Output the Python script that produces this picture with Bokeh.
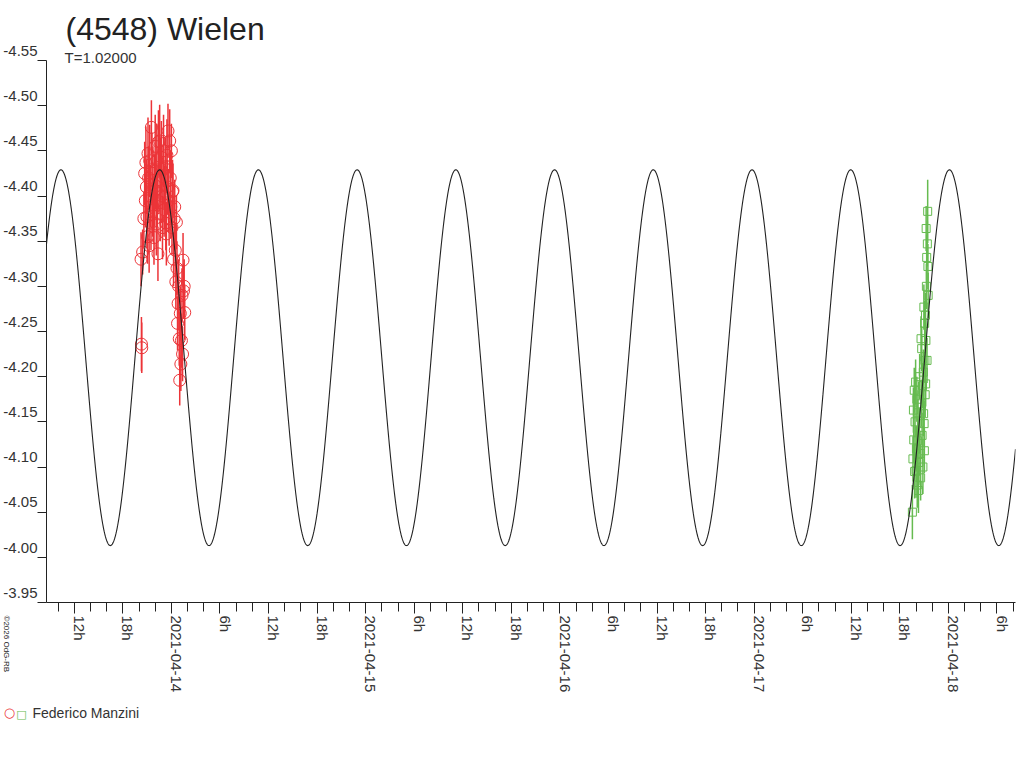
import math
from bokeh.plotting import figure
from bokeh.models import Range1d, FixedTicker, Label, ColumnDataSource
from bokeh.embed import file_html
from bokeh.resources import INLINE

# ---------------- data (time in hours from 2021-04-14 00:00, reduced magnitude) ----------------
red_hours = [-3.75, -3.70, -3.66, -3.55, -3.40, -3.30, -3.22, -3.15, -3.09, -3.02,
             -2.95, -2.89, -2.82, -2.75, -2.68, -2.60, -2.52, -2.47, -2.40, -2.33,
             -2.28, -2.22, -2.15, -2.07, -2.00, -1.93, -1.86, -1.80, -1.73, -1.66,
             -1.60, -1.52, -1.45, -1.38, -1.31, -1.24, -1.17, -1.10, -1.04, -0.97,
             -0.90, -0.83, -0.76, -0.69, -0.62, -0.55, -0.48, -0.42, -0.35, -0.28,
             -0.21, -0.14, -0.07, 0.00, 0.07, 0.14, 0.20, 0.27, 0.34, 0.41,
             0.48, 0.55, 0.62, 0.69, 0.76, 0.83, 0.90, 0.97, 1.03, 1.10,
             1.17, 1.24, 1.31, 1.38, 1.44, 1.50, 1.58, 1.65]
red_mag = [-4.330, -4.236, -4.232, -4.338, -4.375, -4.425, -4.395, -4.437, -4.410, -4.377,
           -4.355, -4.447, -4.420, -4.345, -4.439, -4.400, -4.370, -4.476, -4.430, -4.390,
           -4.425, -4.384, -4.354, -4.406, -4.455, -4.415, -4.369, -4.440, -4.395, -4.336,
           -4.460, -4.418, -4.461, -4.380, -4.430, -4.443, -4.400, -4.365, -4.421, -4.450,
           -4.385, -4.399, -4.430, -4.370, -4.358, -4.445, -4.410, -4.472, -4.395, -4.375,
           -4.461, -4.420, -4.388, -4.450, -4.365, -4.405, -4.406, -4.330, -4.375, -4.388,
           -4.340, -4.305, -4.371, -4.320, -4.259, -4.281, -4.300, -4.242, -4.196, -4.270,
           -4.214, -4.240, -4.290, -4.225, -4.329, -4.295, -4.300, -4.271]
red_err = [0.030, 0.030, 0.028, 0.025, 0.030, 0.035, 0.030, 0.040, 0.030, 0.035,
           0.030, 0.040, 0.035, 0.030, 0.040, 0.035, 0.030, 0.030, 0.040, 0.035,
           0.030, 0.035, 0.030, 0.040, 0.035, 0.030, 0.035, 0.040, 0.030, 0.030,
           0.035, 0.035, 0.040, 0.030, 0.035, 0.040, 0.030, 0.035, 0.035, 0.040,
           0.030, 0.035, 0.035, 0.030, 0.035, 0.040, 0.030, 0.030, 0.035, 0.030,
           0.035, 0.030, 0.035, 0.030, 0.030, 0.035, 0.030, 0.030, 0.035, 0.030,
           0.030, 0.030, 0.030, 0.030, 0.030, 0.030, 0.030, 0.030, 0.028, 0.030,
           0.030, 0.030, 0.030, 0.030, 0.030, 0.030, 0.030, 0.030]

green_hours = [91.55, 91.62, 91.68, 91.72, 91.78, 91.83, 91.88, 91.95, 92.00, 92.05,
               92.10, 92.15, 92.20, 92.25, 92.30, 92.35, 92.40, 92.45, 92.50, 92.57,
               92.62, 92.66, 92.70, 92.75, 92.80, 92.85, 92.90, 92.94, 92.97, 93.00,
               93.03, 93.07, 93.10, 93.13, 93.17, 93.19, 93.22, 93.25, 93.28, 93.32,
               93.36, 93.40, 93.44, 93.47, 93.50]
green_mag = [-4.050, -4.109, -4.163, -4.130, -4.185, -4.095, -4.150, -4.194, -4.096, -4.120,
             -4.175, -4.080, -4.129, -4.160, -4.074, -4.105, -4.140, -4.200, -4.115, -4.088,
             -4.242, -4.170, -4.231, -4.135, -4.190, -4.100, -4.205, -4.159, -4.277, -4.148,
             -4.118, -4.259, -4.218, -4.180, -4.268, -4.192, -4.240, -4.364, -4.300, -4.332,
             -4.218, -4.347, -4.383, -4.322, -4.290]
green_err = [0.030, 0.025, 0.025, 0.025, 0.025, 0.030, 0.025, 0.025, 0.030, 0.025,
             0.025, 0.025, 0.025, 0.025, 0.025, 0.025, 0.025, 0.025, 0.025, 0.025,
             0.025, 0.025, 0.025, 0.025, 0.025, 0.030, 0.025, 0.025, 0.025, 0.025,
             0.025, 0.025, 0.025, 0.025, 0.025, 0.025, 0.025, 0.025, 0.025, 0.025,
             0.025, 0.025, 0.035, 0.025, 0.025]

# fitted model lightcurve parameters
model_period_h = 12.197
model_peak_h = -1.447
model_mean = -4.221
model_amp = 0.208

y_ticks = [-4.55, -4.50, -4.45, -4.40, -4.35, -4.30, -4.25, -4.20, -4.15, -4.10, -4.05, -4.00, -3.95]
y_tick_labels = ["-4.55", "-4.50", "-4.45", "-4.40", "-4.35", "-4.30", "-4.25", "-4.20",
                 "-4.15", "-4.10", "-4.05", "-4.00", "-3.95"]
x_major_ticks = [-12, -6, 0, 6, 12, 18, 24, 30, 36, 42, 48, 54, 60, 66, 72, 78, 84, 90, 96, 102]
x_tick_labels = ["12h", "18h", "2021-04-14", "6h", "12h", "18h", "2021-04-15", "6h",
                 "12h", "18h", "2021-04-16", "6h", "12h", "18h", "2021-04-17", "6h",
                 "12h", "18h", "2021-04-18", "6h"]
x_minor_ticks = list(range(-14, 106, 2))

title_text = "(4548) Wielen"
subtitle_text = "T=1.02000"
observer = "Federico Manzini"
copyright_text = "\u00a92026 OdG-RB"

# ---------------- styling ----------------
RED = "#ec3438"
GREEN = "#66bb50"
INK = "#222222"
FONT = "Liberation Sans"

x_start, x_end = -15.43, 104.29

p = figure(width=1024, height=766, output_backend="svg", toolbar_location=None,
           x_range=Range1d(x_start, x_end), y_range=Range1d(-3.95, -4.55),
           min_border_left=45, min_border_right=0, min_border_top=60, min_border_bottom=164)
p.title.visible = False
p.outline_line_color = None
p.xgrid.visible = False
p.ygrid.visible = False
p.background_fill_color = "white"
p.border_fill_color = "white"

# error bars and points
rsrc = ColumnDataSource(dict(h=red_hours, m=red_mag,
                             lo=[m - e for m, e in zip(red_mag, red_err)],
                             hi=[m + e for m, e in zip(red_mag, red_err)]))
gsrc = ColumnDataSource(dict(h=green_hours, m=green_mag,
                             lo=[m - e for m, e in zip(green_mag, green_err)],
                             hi=[m + e for m, e in zip(green_mag, green_err)]))
p.segment(x0="h", y0="lo", x1="h", y1="hi", source=rsrc, line_color=RED, line_width=1.5)
p.scatter(x="h", y="m", source=rsrc, marker="circle", size=12, fill_color=None,
          line_color=RED, line_width=1)
p.segment(x0="h", y0="lo", x1="h", y1="hi", source=gsrc, line_color=GREEN, line_width=1.5)
p.scatter(x="h", y="m", source=gsrc, marker="square", size=8, fill_color=None,
          line_color=GREEN, line_width=1)

# model curve
n = 2400
curve_h = [x_start + (x_end - x_start) * i / n for i in range(n + 1)]
curve_m = [model_mean - model_amp * math.cos(2 * math.pi * (h - model_peak_h) / model_period_h)
           for h in curve_h]
p.line(curve_h, curve_m, line_color=INK, line_width=1.1)

# axes
xa = p.xaxis[0]
xa.ticker = FixedTicker(ticks=x_major_ticks, minor_ticks=x_minor_ticks)
# trailing empty line (with a reduced line height) nudges the rotated labels to the right of the ticks
xa.major_label_overrides = {t: l + "\n" for t, l in zip(x_major_ticks, x_tick_labels)}
xa.major_label_text_line_height = 0.6
xa.major_label_orientation = -math.pi / 2
xa.major_tick_in = 0
xa.major_tick_out = 11
xa.minor_tick_in = 0
xa.minor_tick_out = 9
xa.major_label_standoff = 2
xa.minor_tick_line_color = INK
ya = p.yaxis[0]
ya.ticker = FixedTicker(ticks=y_ticks)
# trailing empty line lifts each label so it sits just above its tick, as in the reference
ya.major_label_overrides = {t: l + "\n" for t, l in zip(y_ticks, y_tick_labels)}
ya.major_tick_in = 0
ya.major_tick_out = 9
ya.minor_tick_line_color = None
ya.major_label_standoff = 0
for ax in (xa, ya):
    ax.axis_line_color = INK
    ax.major_tick_line_color = INK
    ax.major_label_text_font = FONT
    ax.major_label_text_font_size = "15px"
    ax.major_label_text_color = "#333333"

# texts around the frame, placed in side panels (positions relative to each panel)
p.add_layout(Label(x=18, y=3, x_units="screen", y_units="screen", text=subtitle_text,
                   text_font=FONT, text_font_size="15px", text_color="#333333",
                   text_baseline="alphabetic", text_align="left"), "above")
p.add_layout(Label(x=19, y=15, x_units="screen", y_units="screen", text=title_text,
                   text_font=FONT, text_font_size="32px", text_color=INK,
                   text_baseline="alphabetic", text_align="left"), "above")

p.add_layout(Label(x=-14, y=-1, x_units="screen", y_units="screen", text=observer,
                   text_font=FONT, text_font_size="14px", text_color="#333333",
                   text_baseline="middle", text_align="left"), "below")
p.add_layout(Label(x=-37, y=14, x_units="screen", y_units="screen", text="\u25cb",
                   text_font="DejaVu Sans", text_font_size="13px", text_color=RED,
                   text_baseline="middle", text_align="center"), "below")
p.add_layout(Label(x=-25, y=25, x_units="screen", y_units="screen", text="\u25a1",
                   text_font="DejaVu Sans", text_font_size="11px", text_color=GREEN,
                   text_baseline="middle", text_align="center"), "below")

p.add_layout(Label(x=-1009, y=-13, x_units="screen", y_units="screen", text=copyright_text,
                   text_font=FONT, text_font_size="8px", text_color=INK, angle=-math.pi / 2,
                   text_baseline="middle", text_align="left"), "right")

open("out.html", "w").write(file_html(p, INLINE))
